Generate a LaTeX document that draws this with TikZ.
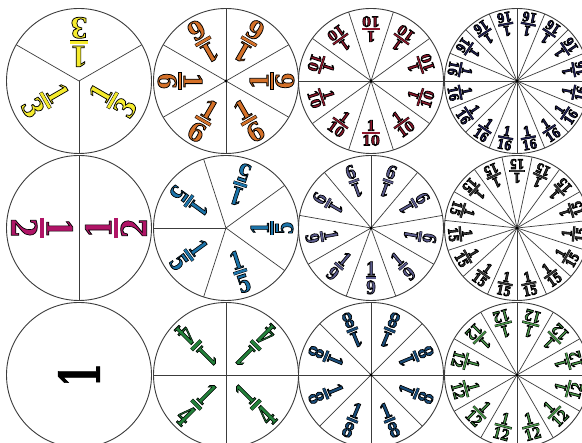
\documentclass[tikz,border=0pt]{standalone}
\usepackage{fontspec}
\setmainfont{DejaVu Serif}
\usepackage{graphicx}
\definecolor{cYellow}{RGB}{245,235,45}
\definecolor{cOrange}{RGB}{212,112,40}
\definecolor{cDRed}{RGB}{140,22,42}
\definecolor{cNavy}{RGB}{32,32,84}
\definecolor{cMagenta}{RGB}{176,20,102}
\definecolor{cBlue}{RGB}{28,116,170}
\definecolor{cPurple}{RGB}{92,92,142}
\definecolor{cGray}{RGB}{55,55,55}
\definecolor{cGreen}{RGB}{35,128,58}
\definecolor{cDBlue}{RGB}{24,76,122}
\definecolor{cLGreen}{RGB}{72,150,72}
\definecolor{rimgray}{RGB}{60,60,60}
\newdimen\olw \olw=0.5pt
\newdimen\barw
% outlined text: fill in current colour, stroke black
\def\olspec{\special{pdf:literal direct 0 G 0.8 w 2 Tr}}
\newcommand\oltext[1]{\hbox{\olspec #1}}
% #1 colour, #2 numerator, #3 denominator
\newcommand\frc[3]{%
  \setbox2\hbox{\oltext{#2}}\setbox4\hbox{\oltext{#3}}%
  \barw=\wd2 \ifdim\wd4>\barw \barw=\wd4 \fi
  \setbox6\hbox{{\color{black}\vrule width\dimexpr\barw+2\olw\relax
      height\dimexpr.1em+2\olw\relax depth0pt}%
    \kern-\dimexpr\barw+\olw\relax
    \raise\olw\hbox{{\color{#1}\vrule width\barw height.1em depth0pt}}\kern\olw}%
  \vbox{\offinterlineskip\halign{\hfil##\hfil\cr\box2\cr
    \noalign{\kern.07em}\box6\cr
    \noalign{\kern.07em}\box4\cr}}}
\def\R{72.5}
\tikzset{
  rim/.style={draw=rimgray, line width=0.9pt},
  sector/.style={draw=rimgray, line width=0.7pt},
  lab/.style={inner sep=0pt, font=\bfseries},
}
% #1 name, #2 center, #3 n, #4 line offset, #5 label radius, #6 font size,
% #7 xscale, #8 colour, #9 denominator
\newcommand\fracdisk[9]{%
  \coordinate (#1) at (#2);
  \foreach \k in {1,...,#3} \draw[sector] (#1) -- ([shift={(#4+\k*360/#3:\R)}]#1);
  \foreach \k in {1,...,#3}{%
    \pgfmathsetmacro\ang{#4+180/#3+\k*360/#3}%
    \pgfmathsetmacro\rot{\ang+90}%
    \node[lab, rotate=\rot, name=#1-\k] at ([shift={(\ang:#5)}]#1)
      {\scalebox{#7}[1]{\fontsize{#6}{#6}\selectfont\bfseries\color{#8}\frc{#8}{1}{#9}}};}
  \draw[rim] (#1) circle[radius=\R];
  \ifnum#3>5 \fill[black] (#1) circle[radius=1.6];\fi
}
\begin{document}
\begin{tikzpicture}[x=1pt,y=1pt]
\useasboundingbox (0,0) rectangle (582,443);
\fill[white] (0,0) rectangle (582,443);
\clip (0,0) rectangle (582,443);
% row 1 (y = 443-81)
\fracdisk{d3}{79,362}{3}{30}{39}{28}{0.9}{cYellow}{3}
\fracdisk{d6}{226,362}{6}{30}{46}{25}{0.95}{cOrange}{6}
\fracdisk{d10}{371,362}{10}{0}{52}{14}{0.9}{cDRed}{10}
\fracdisk{d16}{517,362}{16}{0}{58}{13}{0.8}{cNavy}{16}
% row 2 (y = 443-228)
\fracdisk{d2}{79,215}{2}{90}{37}{35}{0.8}{cMagenta}{2}
\fracdisk{d5}{226,215}{5}{36}{46}{24}{0.8}{cBlue}{5}
\fracdisk{d9}{371,215}{9}{10}{50}{18}{0.8}{cPurple}{9}
\fracdisk{d15}{517,215}{15}{6}{57}{13}{0.8}{cGray}{15}
% row 3 (y = 443-375)
\coordinate (d1) at (79,68);
\node[lab, rotate=90, name=one] at (d1)
  {\scalebox{0.6}[1]{\fontsize{56}{56}\selectfont\bfseries\color{black}\oltext{1}}};
\draw[rim] (d1) circle[radius=\R];
\fracdisk{d4}{226,68}{4}{0}{42}{30}{0.6}{cGreen}{4}
\fracdisk{d8}{371,68}{8}{0}{49}{20}{0.8}{cDBlue}{8}
\fracdisk{d12}{517,68}{12}{0}{53}{15}{0.8}{cLGreen}{12}
\end{tikzpicture}
\end{document}
